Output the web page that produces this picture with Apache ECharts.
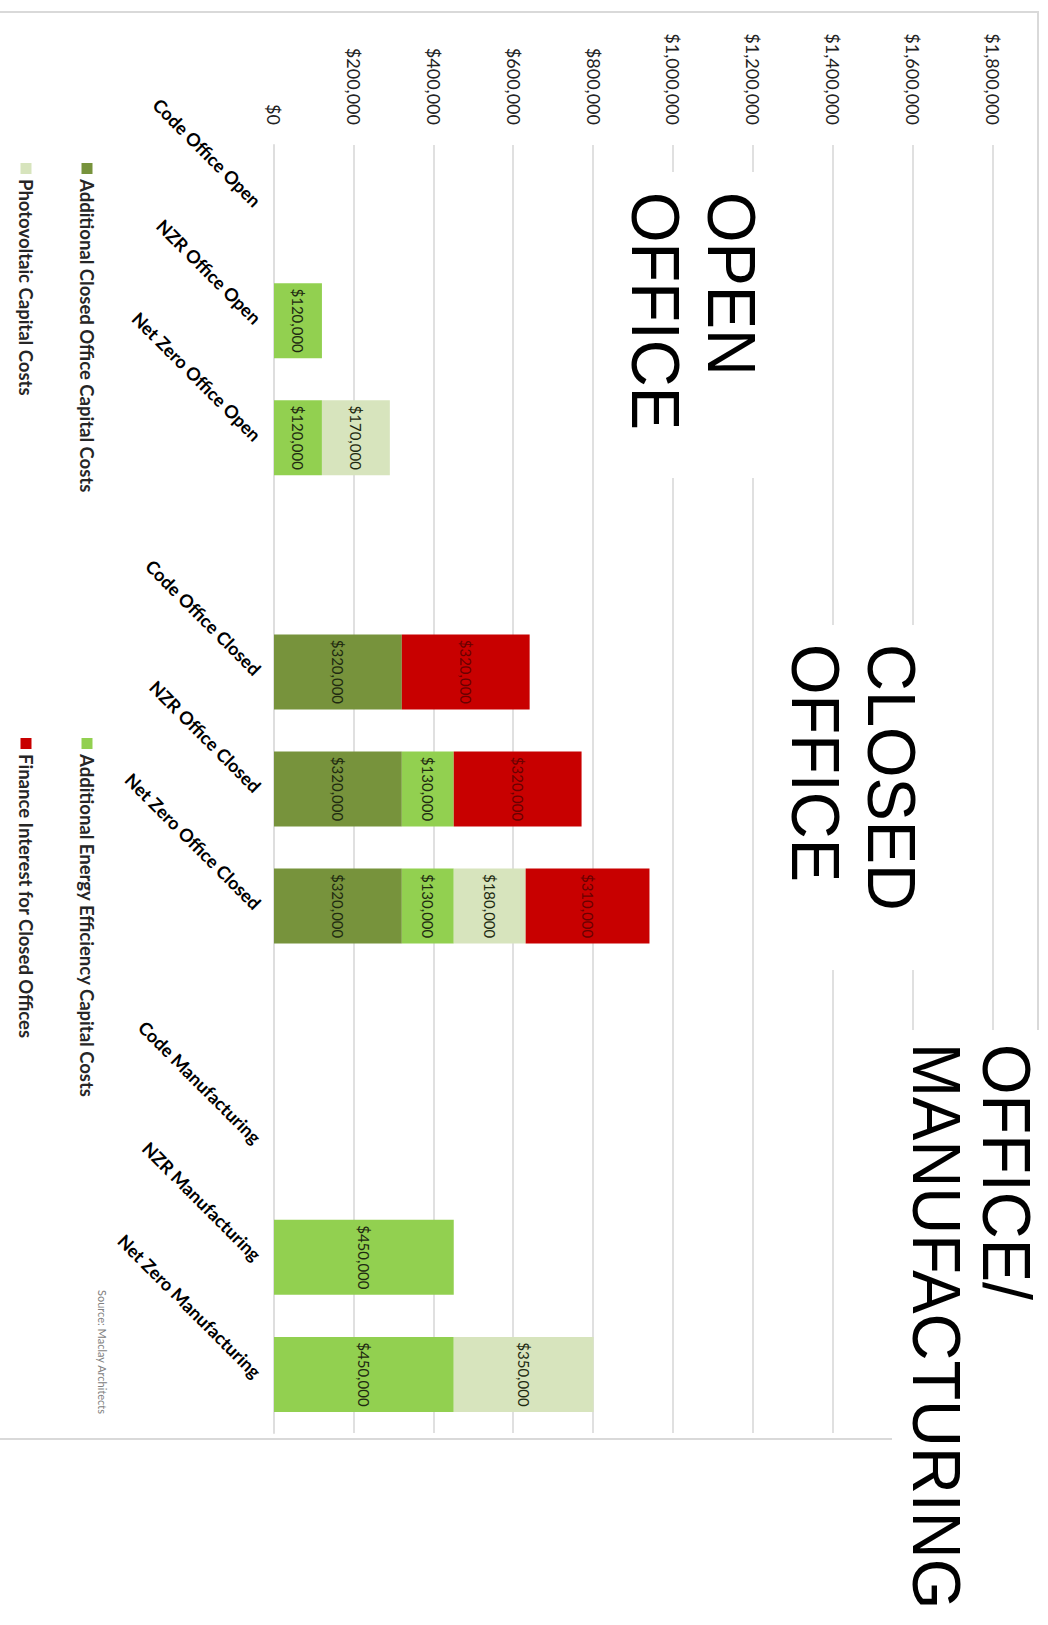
<!DOCTYPE html>
<html>
<head>
<meta charset="utf-8">
<script src="https://cdn.jsdelivr.net/npm/echarts@6/dist/echarts.min.js"></script>
<style>
html,body{margin:0;padding:0;width:1048px;height:1625px;overflow:hidden;background:#fff;}
#chart{position:absolute;left:0;top:0;width:1625px;height:1048px;transform-origin:0 0;transform:translateX(1048px) rotate(90deg);}
</style>
</head>
<body>
<div id="chart"></div>
<script>
// ---- data ----
const categories = ['Code Office Open','NZR Office Open','Net Zero Office Open',' ',
  'Code Office Closed','NZR Office Closed','Net Zero Office Closed','  ',
  'Code Manufacturing','NZR Manufacturing','Net Zero Manufacturing'];
const closedOfficeCosts     = [null,null,null,null,320000,320000,320000,null,null,null,null];
const energyEfficiencyCosts = [null,120000,120000,null,null,130000,130000,null,null,450000,450000];
const photovoltaicCosts     = [null,null,170000,null,null,null,180000,null,null,null,350000];
const financeInterest       = [null,null,null,null,320000,320000,310000,null,null,null,null];
const seriesNames = ['Additional Closed Office Capital Costs','Additional Energy Efficiency Capital Costs',
  'Photovoltaic Capital Costs','Finance Interest for Closed Offices'];
const axisMin = 0, axisMax = 1800000, axisStep = 200000;
const groupTitles = ['OPEN','OFFICE','CLOSED','OFFICE','OFFICE/','MANUFACTURING'];
const sourceNote = 'Source: Maclay Architects';

const money = v => '$' + String(v).replace(/\B(?=(\d{3})+(?!\d))/g, ',');
const chart = echarts.init(document.getElementById('chart'), null, {renderer:'svg'});

function barSeries(name, data, color, labelColor){
  return {
    name: name, type:'bar', stack:'total', data: data, barWidth: 75,
    itemStyle:{color: color},
    label:{show:true, position:'inside', formatter: p => money(p.value),
      fontFamily:'Lato', fontSize:15, color: labelColor}
  };
}

const titleStyle = {fontFamily:'Liberation Sans, Arial, sans-serif', fontSize:68, fill:'#000', verticalAlign:'middle', align:'left'};
function titleText(text, x, y){
  return {type:'text', x:x, y:y, scaleX:0.955, z:12, style: Object.assign({text:text}, titleStyle)};
}
const legendText = {fontFamily:'Lato', fontWeight:'bold', fontSize:18.5, color:'#262626', lineHeight:22};

chart.setOption({
  animation:false,
  backgroundColor:'#fff',
  grid:{left:145, right:192, top:55, bottom:274, containLabel:false},
  xAxis:{type:'category', data:categories,
    axisLine:{show:true, lineStyle:{color:'#dedede', width:2}},
    axisTick:{show:false},
    axisLabel:{interval:0, rotate:45, margin:16, fontFamily:'Lato', fontWeight:'bold', fontSize:18, color:'#000'}
  },
  yAxis:{type:'value', min:axisMin, max:axisMax, interval:axisStep,
    axisLine:{show:false}, axisTick:{show:false},
    splitLine:{lineStyle:{color:'#e0e0e0', width:2}},
    axisLabel:{formatter: v => money(v), margin:20, fontFamily:'Lato', fontSize:18, color:'#222'}
  },
  legend:[
    {data:[seriesNames[0], seriesNames[2]], orient:'vertical', left:158, top:945,
      itemWidth:11, itemHeight:11, itemGap:39, icon:'rect', textStyle:legendText},
    {data:[seriesNames[1], seriesNames[3]], orient:'vertical', left:733, top:945,
      itemWidth:11, itemHeight:11, itemGap:39, icon:'rect', textStyle:legendText}
  ],
  series:[
    barSeries(seriesNames[0], closedOfficeCosts, '#77933C', '#1e2a10'),
    barSeries(seriesNames[1], energyEfficiencyCosts, '#92D050', '#1e2a10'),
    barSeries(seriesNames[2], photovoltaicCosts, '#D7E4BD', '#1e2a10'),
    barSeries(seriesNames[3], financeInterest, '#C80000', '#6a0000')
  ],
  graphic:[
    {type:'rect', z:5, shape:{x:12, y:10, width:1427, height:1060}, style:{fill:'none', stroke:'#d9d9d9', lineWidth:2}},
    {type:'rect', z:10, shape:{x:172, y:278, width:306, height:160}, style:{fill:'#fff'}},
    {type:'rect', z:10, shape:{x:625, y:92, width:345, height:190}, style:{fill:'#fff'}},
    {type:'rect', z:10, shape:{x:1030, y:0, width:595, height:156}, style:{fill:'#fff'}},
    titleText(groupTitles[0], 192, 316),
    titleText(groupTitles[1], 192, 392),
    titleText(groupTitles[2], 644, 156),
    titleText(groupTitles[3], 644, 232),
    titleText(groupTitles[4], 1044, 41),
    titleText(groupTitles[5], 1043, 111),
    {type:'text', x:1290, y:946, z:12, style:{text:sourceNote, fontFamily:'Lato', fontSize:11, fill:'#808080', verticalAlign:'middle'}}
  ]
});
</script>
</body>
</html>
